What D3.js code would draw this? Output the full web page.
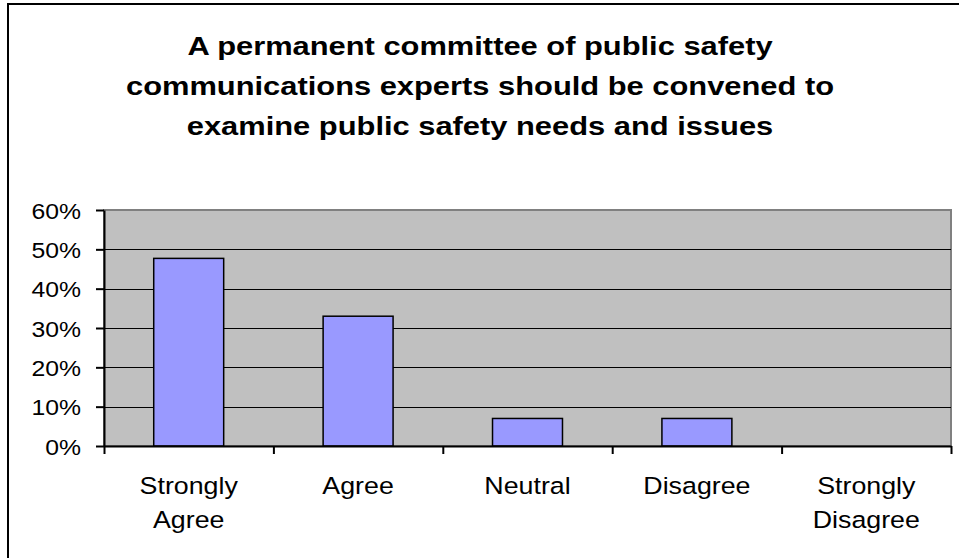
<!DOCTYPE html>
<html>
<head>
<meta charset="utf-8">
<script src="https://cdn.jsdelivr.net/npm/d3@7"></script>
<style>
  html, body { margin: 0; padding: 0; background: #fff; }
  svg { display: block; }
  text { font-family: "Liberation Sans", Arial, sans-serif; fill: #000; }
</style>
</head>
<body>
<svg id="chart" width="959" height="558"></svg>
<script>
const titleLines = [
  "A permanent committee of public safety",
  "communications experts should be convened to",
  "examine public safety needs and issues"
];
const categories = ["Strongly Agree", "Agree", "Neutral", "Disagree", "Strongly Disagree"];
const categoryLines = [["Strongly", "Agree"], ["Agree"], ["Neutral"], ["Disagree"], ["Strongly", "Disagree"]];
const values = [0.477, 0.33, 0.07, 0.07, 0];
const yTicks = [0, 0.1, 0.2, 0.3, 0.4, 0.5, 0.6];

const svg = d3.select("#chart");
const plot = { left: 104, right: 951, top: 210, bottom: 446 };

// outer frame
svg.append("rect").attr("x", 8).attr("y", 4).attr("width", 1000).attr("height", 1000)
  .attr("fill", "#fff").attr("stroke", "#000").attr("stroke-width", 2);

// title
const tsx = 1.165;
const title = svg.append("g");
titleLines.forEach((t, i) => {
  title.append("text")
    .attr("transform", `translate(480,${55 + i * 40}) scale(${tsx},1)`)
    .attr("text-anchor", "middle")
    .attr("font-size", 26.5)
    .attr("font-weight", "bold")
    .text(t);
});

const x = d3.scaleBand().domain(categories).range([plot.left, plot.right])
  .paddingInner(0.587).paddingOuter(0.2935);
const xb = d3.scaleLinear().domain([0, categories.length]).range([plot.left, plot.right]);
const y = d3.scaleLinear().domain([0, 0.6]).range([plot.bottom, plot.top]);

// plot background
svg.append("rect")
  .attr("x", plot.left).attr("y", plot.top)
  .attr("width", plot.right - plot.left).attr("height", plot.bottom - plot.top)
  .attr("fill", "#c0c0c0").attr("stroke", "#808080").attr("stroke-width", 2);

// gridlines
svg.append("g").selectAll("line")
  .data(yTicks.filter(v => v > 0 && v < 0.6))
  .join("line")
  .attr("x1", plot.left).attr("x2", plot.right)
  .attr("y1", d => Math.round(y(d)) + 0.5).attr("y2", d => Math.round(y(d)) + 0.5)
  .attr("stroke", "#000").attr("stroke-width", 1);

// bars
svg.append("g").selectAll("rect")
  .data(values)
  .join("rect")
  .attr("x", (d, i) => x(categories[i]))
  .attr("y", d => y(d))
  .attr("width", x.bandwidth())
  .attr("height", d => y(0) - y(d))
  .attr("fill", "#9999ff")
  .attr("stroke", "#000")
  .attr("stroke-width", 1.5);

// y axis
const yAxis = svg.append("g")
  .attr("transform", `translate(${plot.left},0)`)
  .call(d3.axisLeft(y).tickValues(yTicks).tickSize(8).tickSizeOuter(0)
    .tickFormat(d3.format(".0%")));
yAxis.select(".domain").attr("stroke", "#000").attr("stroke-width", 2);
yAxis.selectAll(".tick line").attr("stroke", "#000").attr("stroke-width", 2);
const ysx = 1.1;
yAxis.selectAll(".tick text")
  .attr("font-family", "Liberation Sans, Arial, sans-serif")
  .attr("font-size", 22.5)
  .attr("fill", "#000")
  .attr("x", -23 / ysx)
  .attr("dy", "0.36em")
  .attr("transform", `scale(${ysx},1)`);

// x axis (ticks between categories)
const xAxis = svg.append("g")
  .attr("transform", `translate(0,${plot.bottom})`)
  .call(d3.axisBottom(xb).tickValues(d3.range(categories.length + 1)).tickSize(8)
    .tickSizeOuter(0).tickFormat(""));
xAxis.select(".domain").attr("stroke", "#000").attr("stroke-width", 2);
xAxis.selectAll(".tick line").attr("stroke", "#000").attr("stroke-width", 2);

// x labels
const xsx = 1.14;
const xl = svg.append("g");
categories.forEach((c, i) => {
  const cx = x(c) + x.bandwidth() / 2;
  const t = xl.append("text")
    .attr("transform", `translate(${cx},494) scale(${xsx},1)`)
    .attr("text-anchor", "middle")
    .attr("font-size", 23.5);
  categoryLines[i].forEach((ln, j) => {
    t.append("tspan").attr("x", 0).attr("y", j * 34).text(ln);
  });
});
</script>
</body>
</html>
